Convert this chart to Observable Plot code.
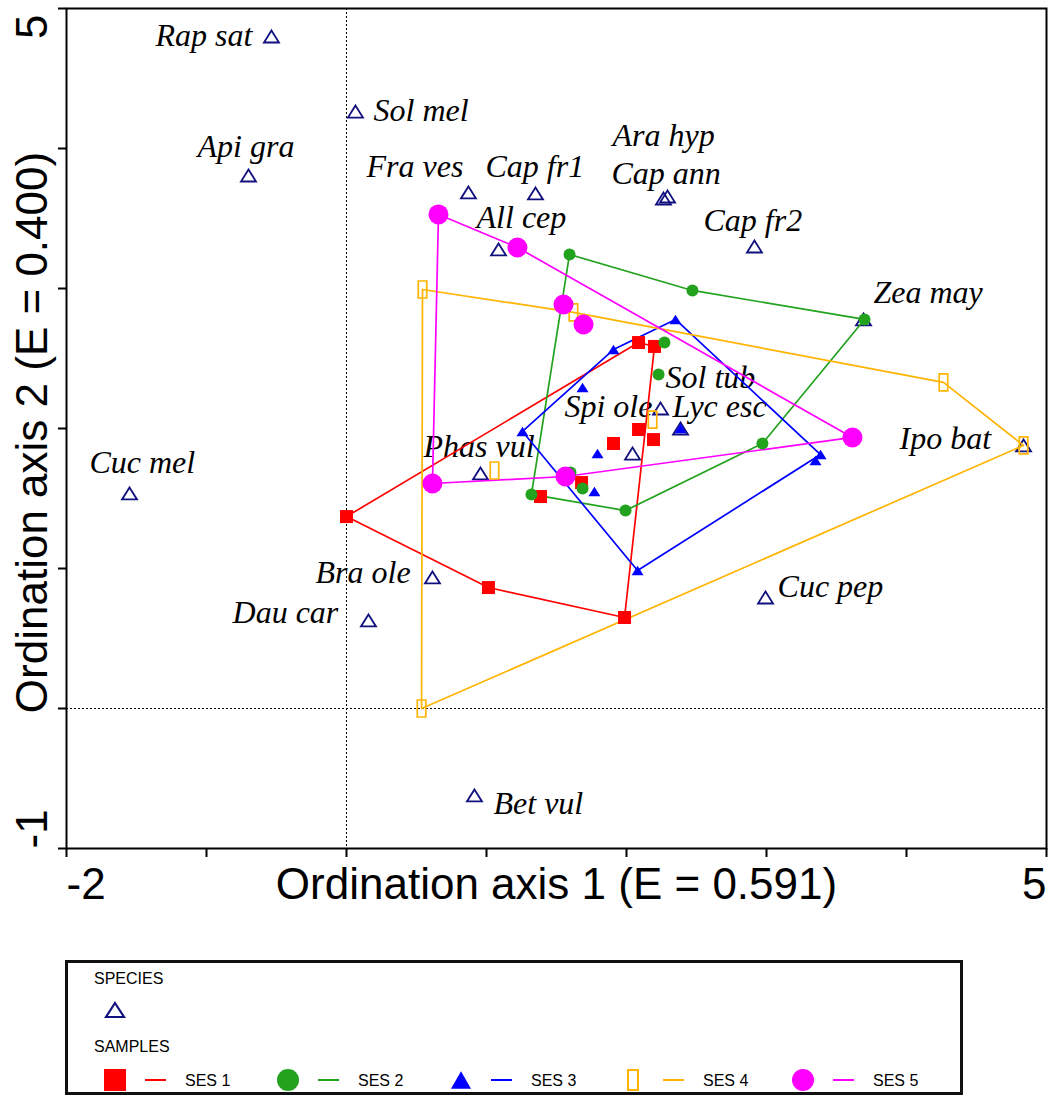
<!DOCTYPE html>
<html>
<head>
<meta charset="utf-8">
<script src="https://cdn.jsdelivr.net/npm/d3@7"></script>
<script src="https://cdn.jsdelivr.net/npm/@observablehq/plot@0.6"></script>
<style>
  html, body { margin: 0; padding: 0; background: #fff; overflow: hidden; }
  #chart svg, #legend svg { display: block; }
</style>
</head>
<body>
<div id="chart"></div>
<div id="legend"></div>
<script>
// ---------------- DATA ----------------
const speciesNames = ["Rap sat","Sol mel","Api gra","Fra ves","Cap fr1","Ara hyp","Cap ann","All cep","Cap fr2","Zea may",
                      "Sol tub","Lyc esc","Spi ole","Phas vul","Ipo bat","Cuc mel","Bra ole","Dau car","Cuc pep","Bet vul"];
const speciesX = [-0.536, 0.064, -0.700, 0.871, 1.350, 2.293, 2.264, 1.086, 2.914, 3.693,
                   2.386, 2.243, 2.043, 0.957, 4.836, -1.550, 0.614, 0.157, 2.993, 0.914];
const speciesY = [4.800, 4.264, 3.807, 3.686, 3.679, 3.657, 3.643, 3.279, 3.300, 2.779,
                  2.000, 2.143, 1.821, 1.679, 1.879, 1.536, 0.936, 0.629, 0.793, -0.621];
// label anchor (left end of text, baseline) in axis units
const speciesLabelX = [-1.364, 0.193, -1.064, 0.143, 0.993, 1.900, 1.893, 0.929, 2.550, 3.764,
                       2.279, 2.329, 1.557, 0.550, 3.950, -1.836, -0.221, -0.814, 3.079, 1.050];
const speciesLabelY = [4.729, 4.200, 3.936, 3.800, 3.800, 4.021, 3.750, 3.429, 3.414, 2.900,
                       2.286, 2.079, 2.079, 1.793, 1.857, 1.679, 0.900, 0.614, 0.793, -0.750];

const sampleGroups = ["SES 1", "SES 2", "SES 3", "SES 4", "SES 5"];

const ses1X = [0.000, 2.086, 2.200, 1.986, 1.014, 1.907, 2.086, 2.193, 1.386, 1.679];
const ses1Y = [1.371, 2.614, 2.586, 0.650, 0.864, 1.893, 1.993, 1.921, 1.514, 1.614];
const ses1Envelope = [0, 1, 2, 3, 4];

const ses2X = [1.593, 2.471, 3.700, 2.971, 1.993, 1.321, 2.271, 2.229, 1.600, 1.686];
const ses2Y = [3.243, 2.986, 2.779, 1.893, 1.414, 1.529, 2.614, 2.386, 1.686, 1.571];
const ses2Envelope = [0, 1, 2, 3, 4, 5];

const ses3X = [1.257, 1.907, 2.350, 3.386, 2.079, 1.686, 1.793, 1.771, 2.386, 3.350];
const ses3Y = [1.979, 2.564, 2.779, 1.814, 0.986, 2.293, 1.821, 1.550, 2.000, 1.771];
const ses3Envelope = [0, 1, 2, 3, 4];

const ses4X = [0.543, 1.621, 4.264, 4.836, 0.536, 1.057, 2.186];
const ses4Y = [2.993, 2.829, 2.329, 1.879, 0.000, 1.700, 2.064];
const ses4Envelope = [0, 1, 2, 3, 4];

const ses5X = [0.657, 1.221, 3.614, 1.564, 0.614, 1.550, 1.693];
const ses5Y = [3.529, 3.293, 1.936, 1.657, 1.607, 2.886, 2.743];
const ses5Envelope = [0, 1, 2, 3, 4];

const xTicks = [-2, -1, 0, 1, 2, 3, 4, 5];
const yTicks = [-1, 0, 1, 2, 3, 4, 5];
const xTickLabels = [-2, 5];
const yTickLabels = [-1, 5];
const xAxisTitle = "Ordination axis 1 (E = 0.591)";
const yAxisTitle = "Ordination axis 2 (E = 0.400)";
const legendSpeciesTitle = "SPECIES";
const legendSamplesTitle = "SAMPLES";

// ---------------- STYLE ----------------
const NAVY = "#11117f";
const groupColors = ["#ff0000", "#22a21d", "#0000ff", "#ffb400", "#ff00ff"];

function triangleSymbol(k) {
  return {draw(ctx, size) {
    const r = Math.sqrt(size / Math.PI), h = r * k;
    ctx.moveTo(0, -h / 2); ctx.lineTo(r, h / 2); ctx.lineTo(-r, h / 2); ctx.closePath();
  }};
}
const squareSymbol = {draw(ctx, size) { const r = Math.sqrt(size / Math.PI); ctx.rect(-r, -r, 2 * r, 2 * r); }};
const tallRectSymbol = {draw(ctx, size) { const r = Math.sqrt(size / Math.PI); ctx.rect(-r * 0.5, -r, r, 2 * r); }};
const circleSymbol = {draw(ctx, size) { const r = Math.sqrt(size / Math.PI); ctx.moveTo(r, 0); ctx.arc(0, 0, r, 0, 2 * Math.PI); }};

const groupStyles = [
  {symbol: squareSymbol, r: 6.5, fill: true},
  {symbol: circleSymbol, r: 6, fill: true},
  {symbol: triangleSymbol(1.6), r: 6, fill: true},
  {symbol: tallRectSymbol, r: 8.5, fill: false},
  {symbol: circleSymbol, r: 10, fill: true}
];

// ---------------- TABLES ----------------
const species = speciesNames.map((name, i) => ({name, x: speciesX[i], y: speciesY[i], lx: speciesLabelX[i], ly: speciesLabelY[i]}));
const groupData = [
  [ses1X, ses1Y, ses1Envelope],
  [ses2X, ses2Y, ses2Envelope],
  [ses3X, ses3Y, ses3Envelope],
  [ses4X, ses4Y, ses4Envelope],
  [ses5X, ses5Y, ses5Envelope]
].map(([xs, ys, env], gi) => ({
  name: sampleGroups[gi],
  points: xs.map((x, i) => ({x, y: ys[i], group: sampleGroups[gi]})),
  outline: env.concat([env[0]]).map(i => ({x: xs[i], y: ys[i], group: sampleGroups[gi]}))
}));

const serif = "'Liberation Serif', 'Times New Roman', serif";
const sans = "'Liberation Sans', Arial, sans-serif";

const marks = [
  Plot.ruleX([0], {stroke: "#000", strokeWidth: 1, strokeDasharray: "2,2"}),
  Plot.ruleY([0], {stroke: "#000", strokeWidth: 1, strokeDasharray: "2,2"}),
  Plot.axisX({ticks: xTicks, tickSize: 9, tickFormat: () => "", label: null, stroke: "#000", strokeWidth: 2}),
  Plot.axisY({ticks: yTicks, tickSize: 8, tickFormat: () => "", label: null, stroke: "#000", strokeWidth: 2}),
  Plot.frame({stroke: "#000", strokeWidth: 2}),
  Plot.text(species, {x: "lx", y: "ly", text: "name", textAnchor: "start", lineAnchor: "bottom",
    fontFamily: serif, fontStyle: "italic", fontSize: 32, fill: "#000"}),
  Plot.dot(species, {x: "x", y: "y", symbol: triangleSymbol(1.6), r: 7.5, fill: "none", stroke: NAVY, strokeWidth: 1.8})
];
groupData.forEach((g, gi) => {
  marks.push(Plot.line(g.outline, {x: "x", y: "y", stroke: groupColors[gi], strokeWidth: 1.7}));
});
groupData.forEach((g, gi) => {
  const st = groupStyles[gi];
  marks.push(Plot.dot(g.points, {x: "x", y: "y", symbol: st.symbol, r: st.r,
    fill: st.fill ? groupColors[gi] : "none", stroke: st.fill ? "none" : groupColors[gi], strokeWidth: 1.7}));
});
const big = {fontFamily: sans, fontSize: 44, fill: "#000"};
marks.push(
  Plot.text([xTickLabels[0]], {x: d => d, text: d => String(d), frameAnchor: "bottom", dy: 36, textAnchor: "start", lineAnchor: "middle", ...big}),
  Plot.text([xTickLabels[1]], {x: d => d, text: d => String(d), frameAnchor: "bottom", dy: 36, textAnchor: "end", lineAnchor: "middle", ...big}),
  Plot.text([yTickLabels[0]], {y: d => d, text: d => String(d), frameAnchor: "left", dx: -34, rotate: -90, textAnchor: "start", lineAnchor: "middle", ...big}),
  Plot.text([yTickLabels[1]], {y: d => d, text: d => String(d), frameAnchor: "left", dx: -34, dy: 6, rotate: -90, textAnchor: "end", lineAnchor: "middle", ...big}),
  Plot.text([xAxisTitle], {text: d => d, frameAnchor: "bottom", dy: 36, textAnchor: "middle", lineAnchor: "middle", ...big}),
  Plot.text([yAxisTitle], {text: d => d, frameAnchor: "left", dx: -34, dy: 4, rotate: -90, textAnchor: "middle", lineAnchor: "middle", ...big})
);

const chart = Plot.plot({
  width: 1051,
  height: 955,
  marginLeft: 66,
  marginRight: 5,
  marginTop: 8,
  marginBottom: 107,
  x: {domain: [-2, 5]},
  y: {domain: [-1, 5]},
  style: {background: "#fff", fontFamily: sans, overflow: "visible"},
  marks
});
document.getElementById("chart").appendChild(chart);

// ---------------- LEGEND ----------------
const lg = d3.create("svg").attr("width", 1051).attr("height", 142).style("background", "#fff");
lg.append("rect").attr("x", 66.5).attr("y", 6.5).attr("width", 895).attr("height", 132)
  .attr("fill", "#fff").attr("stroke", "#111").attr("stroke-width", 3);
lg.append("text").attr("x", 94).attr("y", 29).attr("font-family", sans).attr("font-size", 16).text(legendSpeciesTitle);
lg.append("path").attr("transform", "translate(115,55)")
  .attr("d", d3.symbol(triangleSymbol(1.55), Math.PI * 9 * 9)())
  .attr("fill", "none").attr("stroke", NAVY).attr("stroke-width", 2.2);
lg.append("text").attr("x", 94).attr("y", 97).attr("font-family", sans).attr("font-size", 16).text(legendSamplesTitle);
const legendCx = [115, 288, 461, 633, 803];
const legendR = [11, 11, 10, 10, 11];
sampleGroups.forEach((name, gi) => {
  const cx = legendCx[gi], st = groupStyles[gi], c = groupColors[gi];
  const sym = gi === 2 ? triangleSymbol(1.75) : st.symbol;
  lg.append("path").attr("transform", `translate(${cx},125)`)
    .attr("d", d3.symbol(sym, Math.PI * legendR[gi] * legendR[gi])())
    .attr("fill", st.fill ? c : "none").attr("stroke", st.fill ? "none" : c).attr("stroke-width", 2);
  lg.append("line").attr("x1", cx + 30).attr("x2", cx + 51).attr("y1", 125).attr("y2", 125)
    .attr("stroke", c).attr("stroke-width", 2);
  lg.append("text").attr("x", cx + 70).attr("y", 131).attr("font-family", sans).attr("font-size", 16).text(name);
});
document.getElementById("legend").appendChild(lg.node());
</script>
</body>
</html>
